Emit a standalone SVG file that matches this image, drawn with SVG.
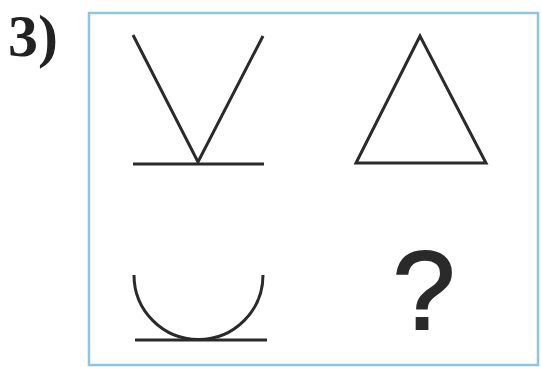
<svg xmlns="http://www.w3.org/2000/svg" width="541" height="367" viewBox="0 0 541 367">
<style>
.fig{fill:none;stroke:#2a2a2a;stroke-width:3;stroke-linejoin:miter}
.lbl{font-family:"Liberation Serif",serif;font-weight:bold;fill:#222}
.q{font-family:"Liberation Sans",Arial,sans-serif;fill:#2a2a2a;stroke:#2a2a2a;stroke-width:2}
</style>
<rect width="541" height="367" fill="#ffffff"/>
<text class="lbl" x="8" y="56" font-size="60">3)</text>
<rect id="frame" x="89" y="13" width="449" height="352" fill="none" stroke="#8ec5e0" stroke-width="2.5"/>
<g id="angle">
<polyline class="fig" points="133,35 198,162 263,36"/>
<line class="fig" x1="133" y1="164" x2="264" y2="164"/>
</g>
<g id="triangle">
<polygon class="fig" points="420,36 356,163 486,163"/>
</g>
<g id="arc">
<path class="fig" d="M134,275 A64.5,64.5 0 0 0 263,275"/>
<line class="fig" x1="135" y1="340" x2="267" y2="340"/>
</g>
<g id="question">
<text class="q" x="424" y="329" font-size="112" text-anchor="middle">?</text>
</g>
</svg>
